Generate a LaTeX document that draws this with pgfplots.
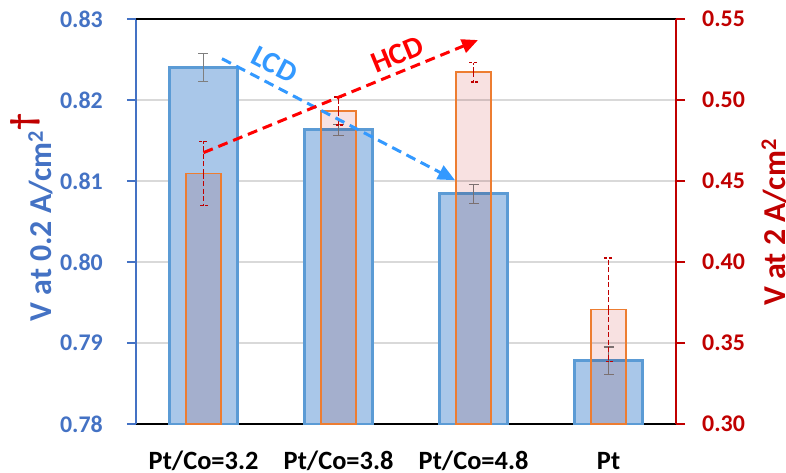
\documentclass[border=0pt]{standalone}
\usepackage{fontspec}
\setmainfont{Carlito}
\usepackage{pgfplots}
\pgfplotsset{compat=1.18}
\usetikzlibrary{arrows.meta}
\definecolor{bluefill}{HTML}{A9C7E9}
\definecolor{blueedge}{HTML}{5B9BD5}
\definecolor{orangeedge}{HTML}{ED7D31}
\definecolor{pinkfill}{HTML}{F8E1E1}
\definecolor{leftblue}{HTML}{4472C4}
\definecolor{darkred}{HTML}{C00000}
\definecolor{gridgray}{HTML}{D9D9D9}
\definecolor{errgray}{HTML}{7F7F7F}
\definecolor{lcdblue}{HTML}{3399FF}
\definecolor{hcdred}{HTML}{FF0000}
\pgfplotstableread{
x y e
0 0.8240 0.0017
1 0.8163 0.0007
2 0.8084 0.0012
3 0.7878 0.0017
}\lowcd
\pgfplotstableread{
x y e
0 0.4546 0.0198
1 0.4932 0.0087
2 0.5171 0.0060
3 0.3706 0.0320
}\highcd
\begin{document}
\begin{tikzpicture}
\begin{axis}[name=ax, width=540bp, height=405bp, scale only axis,
  xmin=-0.5, xmax=3.5, ymin=0.78, ymax=0.83,
  axis x line*=bottom, axis y line*=left,
  x axis line style={black, line width=1.5bp, -},
  y axis line style={leftblue, line width=1.5bp, -},
  xtick={0,1,2,3}, xticklabels={Pt/Co=3.2,Pt/Co=3.8,Pt/Co=4.8,Pt},
  xtick style={draw=none},
  xticklabel style={font=\fontsize{26.5}{30}\selectfont\bfseries, anchor=base, yshift=-36bp},
  ytick={0.78,0.79,0.80,0.81,0.82,0.83},
  ytick style={leftblue, line width=1.2bp}, tick align=outside, major tick length=9bp,
  /pgf/number format/assume math mode=true,
  yticklabel style={font=\fontsize{24}{28}\selectfont\bfseries, text=leftblue, anchor=east, inner sep=0pt, xshift=-24bp,
    /pgf/number format/fixed, /pgf/number format/fixed zerofill, /pgf/number format/precision=2},
  ymajorgrids, major grid style={gridgray, line width=1.2bp},
  ylabel={V at 0.2 A/cm\textsuperscript{2}{\color{darkred}\raisebox{0.55em}{\fontsize{34}{36}\selectfont †}}},
  ylabel style={font=\fontsize{32}{36}\selectfont\bfseries, text=leftblue, at={(axis description cs:-0.1556,0.51)}, anchor=base},
]
\addplot[ybar, bar width=0.51, bar shift=0pt, fill=bluefill, draw=blueedge, line width=3bp,
  error bars/.cd, y dir=both, y explicit,
  error bar style={errgray, line width=1.3bp, solid},
  error mark options={errgray, line width=1.3bp, mark size=5bp, solid, rotate=90}]
  table[x=x, y=y, y error=e] {\lowcd};
\coordinate (lcdA) at (axis cs:0.137,0.8251);
\coordinate (lcdB) at (axis cs:1.863,0.8101);
\coordinate (hcdA) at (axis cs:0.0,0.8135);
\coordinate (hcdB) at (axis cs:2.033,0.8274);
\coordinate (lcdT) at (axis cs:0.525,0.8244);
\coordinate (hcdT) at (axis cs:1.435,0.8256);
\end{axis}
\begin{axis}[width=540bp, height=405bp, scale only axis,
  xmin=-0.5, xmax=3.5, ymin=0.30, ymax=0.55,
  axis x line*=top, axis y line*=right, xtick=\empty,
  x axis line style={black, line width=1.5bp, -},
  y axis line style={darkred, line width=1.5bp, -},
  ytick={0.30,0.35,0.40,0.45,0.50,0.55},
  ytick style={darkred, line width=1.2bp}, tick align=outside, major tick length=9bp,
  /pgf/number format/assume math mode=true,
  yticklabel style={font=\fontsize{24}{28}\selectfont\bfseries, text=darkred, anchor=west, inner sep=0pt, xshift=17bp,
    /pgf/number format/fixed, /pgf/number format/fixed zerofill, /pgf/number format/precision=2},
  ylabel={V at 2 A/cm\textsuperscript{2}},
  ylabel style={font=\fontsize{32}{36}\selectfont\bfseries, text=darkred, at={(axis description cs:1.2019,0.498)}, anchor=base},
]
\addplot[ybar, bar width=0.26, bar shift=0pt, fill=pinkfill, draw=none, /tikz/blend mode=multiply]
  table[x=x, y=y] {\highcd};
\addplot[ybar, bar width=0.26, bar shift=0pt, fill=none, draw=orangeedge, line width=1.6bp,
  error bars/.cd, y dir=both, y explicit,
  error bar style={darkred, line width=1.5bp, dash pattern=on 5bp off 2.5bp},
  error mark options={darkred, line width=1.5bp, mark size=4.5bp, rotate=90, dash pattern=on 3bp off 1.5bp}]
  table[x=x, y=y, y error=e] {\highcd};
\end{axis}
\draw[lcdblue, line width=3bp, dash pattern=on 10bp off 6bp, -{Triangle[length=17bp,width=15bp]}] (lcdA) -- (lcdB);
\draw[hcdred, line width=3bp, dash pattern=on 10bp off 6bp, -{Triangle[length=16bp,width=14bp]}] (hcdA) -- (hcdB);
\node[text=lcdblue, font=\fontsize{30}{32}\selectfont\bfseries, rotate=-27.4, inner sep=0pt] at (lcdT) {LCD};
\node[text=hcdred, font=\fontsize{30}{32}\selectfont\bfseries, rotate=22.3, inner sep=0pt] at (hcdT) {HCD};
\pgfresetboundingbox
\path ([xshift=-136bp,yshift=-49bp]ax.south west) rectangle ([xshift=110bp,yshift=19bp]ax.north east);
\end{tikzpicture}
\end{document}
